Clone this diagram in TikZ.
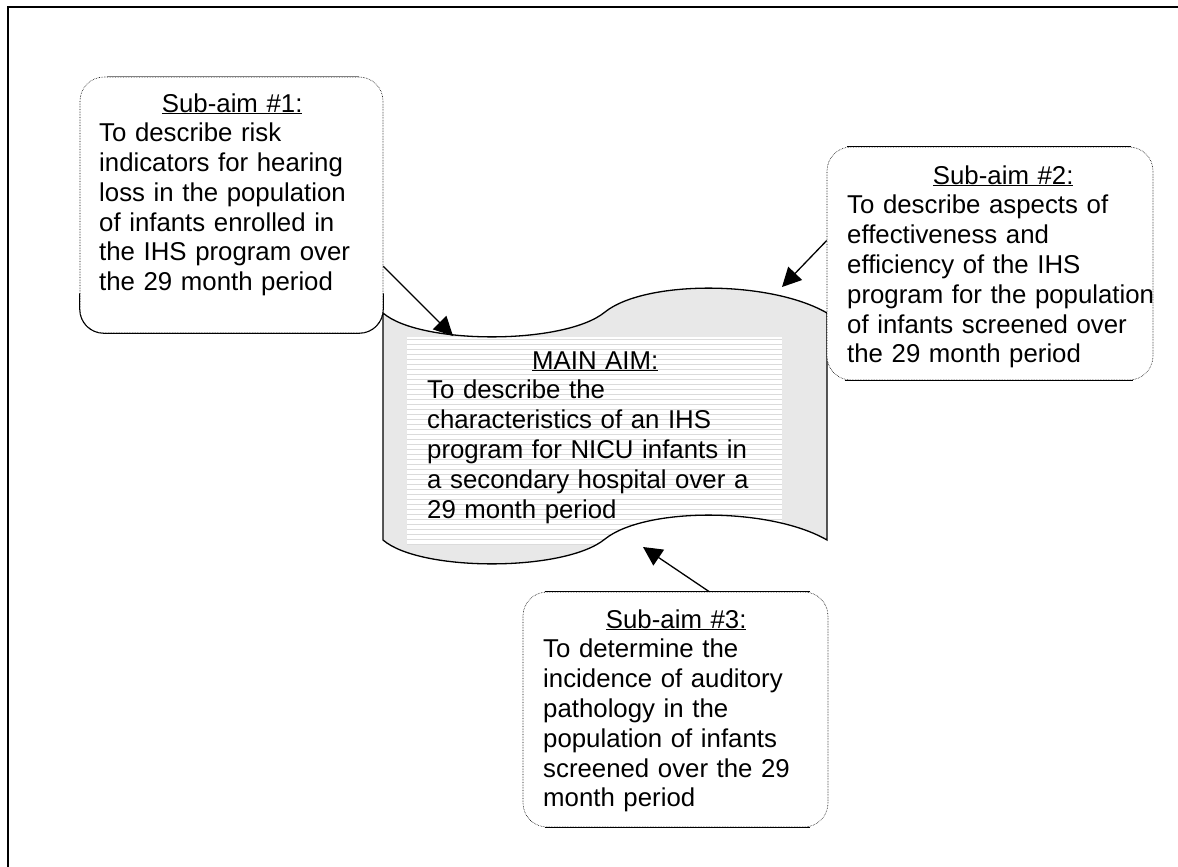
\documentclass[tikz,border=0pt]{standalone}
\usepackage{fontspec}
\setmainfont{Liberation Sans}
\usetikzlibrary{arrows.meta}

% outline of the wave that holds the main aim
\newcommand{\mainwave}{(383,313) .. controls (420,345) and (565,345) .. (605,312)
        .. controls (645,280) and (770,280) .. (827,313) -- (827,540)
        .. controls (770,507) and (645,507) .. (605,539)
        .. controls (565,572) and (420,572) .. (383,540) -- cycle}

\begin{document}
\begin{tikzpicture}[x=1pt,y=-1pt,
        aimfont/.style={font=\fontsize{25.8pt}{29.8pt}\selectfont},
        aimtext/.style={aimfont,inner sep=0pt,align=left,anchor=base west},
        subbox/.style={draw,densely dotted,line width=0.6pt,fill=white,rounded corners=24pt},
        boxline/.style={line width=1pt},
        aimarrow/.style={line width=1.3pt,-{Triangle[length=19pt,width=19pt]}},
        stripe/.style={black!14,line width=0.8pt}]
        \useasboundingbox (0,0) rectangle (1178,867);

        % draw the frame (cut off on the right and at the bottom)
        \draw[line width=1.5pt] (8,867) -- (8,7) -- (1178,7);

        % draw the wave of the main aim
        \fill[black!9] \mainwave;
        \begin{scope}
                \clip \mainwave;
                \fill[white] (407,337) rectangle (782,545);
                % horizontal stripes behind the text
                \foreach \y in {339,344,...,545}
                        \draw[stripe] (407,\y) -- (782,\y);
        \end{scope}
        \draw[line width=1.3pt] \mainwave;

        \node[aimtext,text width=336pt] (maintext) at (427,369)
                {\makebox[\linewidth]{\underline{MAIN AIM:}}\\
                 To describe the\\
                 characteristics of an IHS\\
                 program for NICU infants in\\
                 a secondary hospital over a\\
                 29 month period};

        % draw the three sub-aim boxes
        \node[subbox,minimum width=303pt,minimum height=256pt] (sub1) at (231.5,205) {};
        \node[subbox,minimum width=326pt,minimum height=233pt] (sub2) at (990,263.5) {};
        \node[subbox,minimum width=305pt,minimum height=235pt] (sub3) at (675.5,709.5) {};

        % the solid parts of the box borders
        \draw[boxline,rounded corners=24pt] ([yshift=40pt]sub1.south west) -- (sub1.south west)
              -- (sub1.south east) -- ([yshift=40pt]sub1.south east);
        \draw[gray,line width=0.8pt] ([xshift=27pt]sub1.north west) -- ([xshift=-24pt]sub1.north east);
        \draw[boxline] ([xshift=20pt]sub2.north west) -- ([xshift=-22pt]sub2.north east);
        \draw[boxline] ([xshift=18pt]sub2.south west) -- ([xshift=-20pt]sub2.south east);
        \draw[boxline] ([xshift=22pt]sub3.north west) -- ([xshift=-18pt]sub3.north east);
        \draw[boxline] ([xshift=22pt]sub3.south west) -- ([xshift=-18pt]sub3.south east);

        \node[aimtext,text width=266pt] (text1) at (99,112)
                {\makebox[\linewidth]{\underline{Sub-aim \#1:}}\\
                 To describe risk\\
                 indicators for hearing\\
                 loss in the population\\
                 of infants enrolled in\\
                 the IHS program over\\
                 the 29 month period};
        \node[aimtext,text width=312pt] (text2) at (847,184)
                {\makebox[\linewidth]{\underline{Sub-aim \#2:}}\\
                 To describe aspects of\\
                 effectiveness and\\
                 efficiency of the IHS\\
                 program for the population\\
                 of infants screened over\\
                 the 29 month period};
        \node[aimtext,text width=266pt] (text3) at (543,628)
                {\makebox[\linewidth]{\underline{Sub-aim \#3:}}\\
                 To determine the\\
                 incidence of auditory\\
                 pathology in the\\
                 population of infants\\
                 screened over the 29\\
                 month period};

        % draw the arrows onto the wave
        \coordinate (tip1) at (453,336);
        \coordinate (tip2) at (782,287);
        \coordinate (tip3) at (643,547);
        \draw[aimarrow] (sub1.-22) -- (tip1);
        \draw[aimarrow] (sub2.172) -- (tip2);
        \draw[aimarrow] (sub3.74) -- (tip3);
\end{tikzpicture}
\end{document}
